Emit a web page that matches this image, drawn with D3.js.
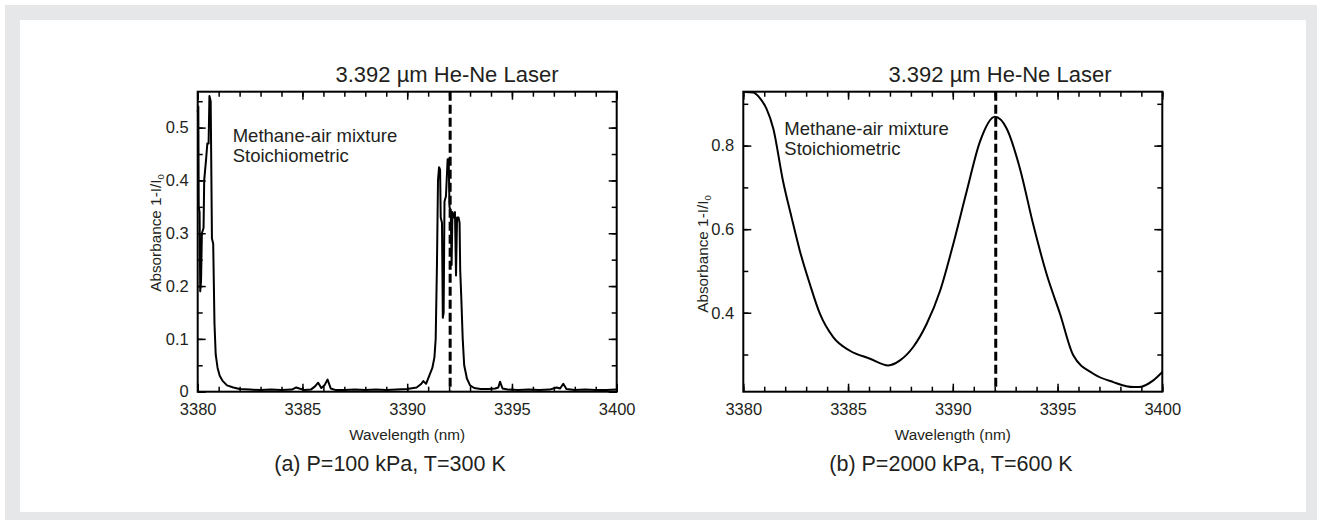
<!DOCTYPE html>
<html>
<head>
<meta charset="utf-8">
<script src="https://cdn.jsdelivr.net/npm/d3@7"></script>
<style>
  body { margin: 0; background: #fff; }
  text { font-family: "Liberation Sans", Arial, Helvetica, sans-serif; fill: #231f20; }
</style>
</head>
<body>
<div id="chart"></div>
<script>
// (a) P=100 kPa, T=300 K  -- wavelength (nm) / absorbance
var wlA = [3380.00, 3380.03, 3380.05, 3380.09, 3380.12, 3380.16, 3380.20, 3380.28, 3380.31, 3380.40,
           3380.46, 3380.52, 3380.56, 3380.62, 3380.68, 3380.74, 3380.80, 3380.86, 3380.95, 3381.05,
           3381.20, 3381.40, 3381.70, 3382.00, 3382.50, 3383.00, 3383.50, 3384.00, 3384.50, 3384.70,
           3384.85, 3385.10, 3385.40, 3385.60, 3385.75, 3385.90, 3386.05, 3386.20, 3386.35, 3386.60,
           3387.00, 3387.50, 3388.00, 3388.50, 3389.00, 3389.50, 3390.00, 3390.45, 3390.65, 3390.77,
           3390.90, 3391.05, 3391.20, 3391.30, 3391.36, 3391.42, 3391.47, 3391.52, 3391.57, 3391.60,
           3391.66, 3391.70, 3391.74, 3391.78, 3391.85, 3391.93, 3391.98, 3392.02, 3392.08, 3392.12,
           3392.16, 3392.22, 3392.28, 3392.33, 3392.38, 3392.45, 3392.50, 3392.53, 3392.58, 3392.65,
           3392.72, 3392.85, 3393.00, 3393.20, 3393.50, 3393.90, 3394.20, 3394.35, 3394.43, 3394.55,
           3394.80, 3395.30, 3395.80, 3396.30, 3396.80, 3397.13, 3397.30, 3397.45, 3397.60, 3398.00,
           3398.50, 3399.00, 3399.50, 3400.00];
var absA = [0.530, 0.540, 0.350, 0.340, 0.190, 0.210, 0.300, 0.310, 0.400, 0.440,
            0.470, 0.470, 0.560, 0.550, 0.290, 0.280, 0.130, 0.070, 0.045, 0.030,
            0.020, 0.012, 0.008, 0.005, 0.004, 0.003, 0.004, 0.003, 0.004, 0.008,
            0.006, 0.003, 0.004, 0.010, 0.017, 0.007, 0.012, 0.023, 0.006, 0.003,
            0.003, 0.004, 0.003, 0.004, 0.003, 0.004, 0.005, 0.008, 0.014, 0.020,
            0.015, 0.030, 0.045, 0.065, 0.100, 0.240, 0.400, 0.425, 0.420, 0.330,
            0.320, 0.140, 0.150, 0.360, 0.370, 0.440, 0.440, 0.350, 0.340, 0.240,
            0.340, 0.330, 0.340, 0.220, 0.330, 0.330, 0.320, 0.230, 0.180, 0.100,
            0.050, 0.025, 0.012, 0.007, 0.005, 0.005, 0.006, 0.008, 0.019, 0.006,
            0.004, 0.003, 0.004, 0.003, 0.004, 0.008, 0.006, 0.015, 0.005, 0.003,
            0.004, 0.003, 0.003, 0.004];

// (b) P=2000 kPa, T=600 K
var wlB = [3380.00, 3380.08, 3380.48, 3380.80, 3381.10, 3381.43, 3381.90, 3382.31, 3382.70, 3383.18,
           3383.66, 3384.30, 3385.09, 3386.05, 3386.92, 3387.48, 3388.11, 3388.75, 3389.39, 3390.02,
           3390.66, 3391.30, 3392.01, 3392.57, 3393.20, 3393.84, 3394.48, 3395.12, 3395.75, 3396.71,
           3397.66, 3398.62, 3398.90, 3399.57, 3400.00];
var absB = [0.928, 0.928, 0.927, 0.913, 0.889, 0.841, 0.714, 0.627, 0.548, 0.468,
            0.397, 0.341, 0.309, 0.290, 0.274, 0.286, 0.318, 0.373, 0.452, 0.564,
            0.690, 0.810, 0.869, 0.841, 0.746, 0.611, 0.492, 0.397, 0.298, 0.254,
            0.234, 0.222, 0.222, 0.238, 0.258];

var xTicks = [3380, 3385, 3390, 3395, 3400];
var yTicksA = [0, 0.1, 0.2, 0.3, 0.4, 0.5];
var yTicksB = [0.4, 0.6, 0.8];
var laserWl = 3392.05;

var W = 1317, H = 520;
var svg = d3.select('#chart').append('svg').attr('width', W).attr('height', H);

// page frame
svg.append('rect').attr('x', 5).attr('y', 5).attr('width', W - 5).attr('height', H - 5).attr('fill', '#e6e7e8');
svg.append('rect').attr('x', 20).attr('y', 20).attr('width', 1286).attr('height', 492).attr('fill', '#fff');

function drawPanel(opt) {
    var x = d3.scaleLinear().domain([3380, 3400]).range([opt.left, opt.right]);
    var y = d3.scaleLinear().domain(opt.yDomain).range([391.7, 91.7]);
    var g = svg.append('g');
    var minorX = d3.range(3380, 3401, 1);
    var minorY = d3.range(opt.yDomain[0] - 1e-9, opt.yDomain[1], opt.yMinor)
        .map(function(v) { return Math.round(Math.ceil(v / opt.yMinor - 1e-6) * opt.yMinor * 1000) / 1000; })
        .filter(function(v) { return v >= opt.yDomain[0] && v <= opt.yDomain[1]; });

    // ticks, inward on all four sides
    function ax(axis, tr) {
        var a = g.append('g').attr('transform', tr).call(axis);
        a.select('.domain').remove();
        a.selectAll('line').attr('stroke', '#000').attr('stroke-width', 1.5);
        return a;
    }
    var b = ax(d3.axisBottom(x).tickValues(xTicks).tickSize(-8).tickPadding(12).tickFormat(d3.format('d')), 'translate(0,391.7)');
    b.selectAll('text').attr('font-size', 16.5).attr('fill', '#231f20').attr('dy', '0.71em');
    ax(d3.axisBottom(x).tickValues(minorX).tickSize(-5).tickFormat(''), 'translate(0,391.7)');
    ax(d3.axisTop(x).tickValues(xTicks).tickSize(-8).tickFormat(''), 'translate(0,91.7)');
    ax(d3.axisTop(x).tickValues(minorX).tickSize(-5).tickFormat(''), 'translate(0,91.7)');

    var l = ax(d3.axisLeft(y).tickValues(opt.yTicks).tickSize(-8).tickPadding(9).tickFormat(opt.yFormat), 'translate(' + opt.left + ',0)');
    l.selectAll('text').attr('font-size', 16.5).attr('fill', '#231f20');
    ax(d3.axisLeft(y).tickValues(minorY).tickSize(-5).tickFormat(''), 'translate(' + opt.left + ',0)');
    ax(d3.axisRight(y).tickValues(opt.yTicks).tickSize(-8).tickFormat(''), 'translate(' + opt.right + ',0)');
    ax(d3.axisRight(y).tickValues(minorY).tickSize(-5).tickFormat(''), 'translate(' + opt.right + ',0)');

    // box
    g.append('rect').attr('x', opt.left).attr('y', 91.7)
        .attr('width', opt.right - opt.left).attr('height', 300)
        .attr('fill', 'none').attr('stroke', '#000').attr('stroke-width', 2);

    // spectrum
    var line = d3.line().x(function(d) { return x(d[0]); }).y(function(d) { return y(d[1]); });
    if (opt.curve) line.curve(opt.curve);
    var pts = opt.wl.map(function(w, i) { return [w, opt.abs[i]]; });
    g.append('path').datum(pts).attr('d', line)
        .attr('fill', 'none').attr('stroke', '#000').attr('stroke-width', 2).attr('stroke-linejoin', 'round');

    // laser line
    g.append('line').attr('x1', x(laserWl)).attr('x2', x(laserWl)).attr('y1', 91.7).attr('y2', 391.7)
        .attr('stroke', '#000').attr('stroke-width', 3).attr('stroke-dasharray', '9,4');

    // texts
    g.append('text').attr('x', opt.titleX).attr('y', 81.7).attr('text-anchor', 'middle')
        .attr('font-size', 22).text('3.392 µm He-Ne Laser');
    var ann = g.append('text').attr('x', opt.annX).attr('y', opt.annY).attr('font-size', 18.5);
    ann.append('tspan').attr('x', opt.annX).text('Methane-air mixture');
    ann.append('tspan').attr('x', opt.annX).attr('dy', 20).text('Stoichiometric');

    g.append('text').attr('x', (opt.left + opt.right) / 2).attr('y', 440).attr('text-anchor', 'middle')
        .attr('font-size', 15.3).text('Wavelength (nm)');
    var yl = g.append('text').attr('transform', 'translate(' + opt.ylX + ',' + opt.ylY + ') rotate(-90)')
        .attr('text-anchor', 'middle').attr('font-size', 15.3);
    yl.append('tspan').text('Absorbance 1-I/I');
    yl.append('tspan').attr('font-size', 9.5).attr('dy', 3).text('0');

    g.append('text').attr('x', opt.capX).attr('y', 471).attr('text-anchor', 'middle')
        .attr('font-size', 21.5).text(opt.caption);
}

drawPanel({
    left: 197.7, right: 616.7, yDomain: [0, 0.568], yTicks: yTicksA, yMinor: 0.05,
    yFormat: function(d) { return d === 0 ? '0' : d3.format('.1f')(d); },
    wl: wlA, abs: absA, titleX: 447, annX: 232.7, annY: 141.7,
    ylX: 161, ylY: 233, capX: 390, caption: '(a) P=100 kPa, T=300 K'
});
drawPanel({
    left: 743.3, right: 1162.3, yDomain: [0.211, 0.929], yTicks: yTicksB, yMinor: 0.1,
    yFormat: d3.format('.1f'), curve: d3.curveMonotoneX,
    wl: wlB, abs: absB, titleX: 1000, annX: 784.3, annY: 135,
    ylX: 708, ylY: 254, capX: 951, caption: '(b) P=2000 kPa, T=600 K'
});
</script>
</body>
</html>
